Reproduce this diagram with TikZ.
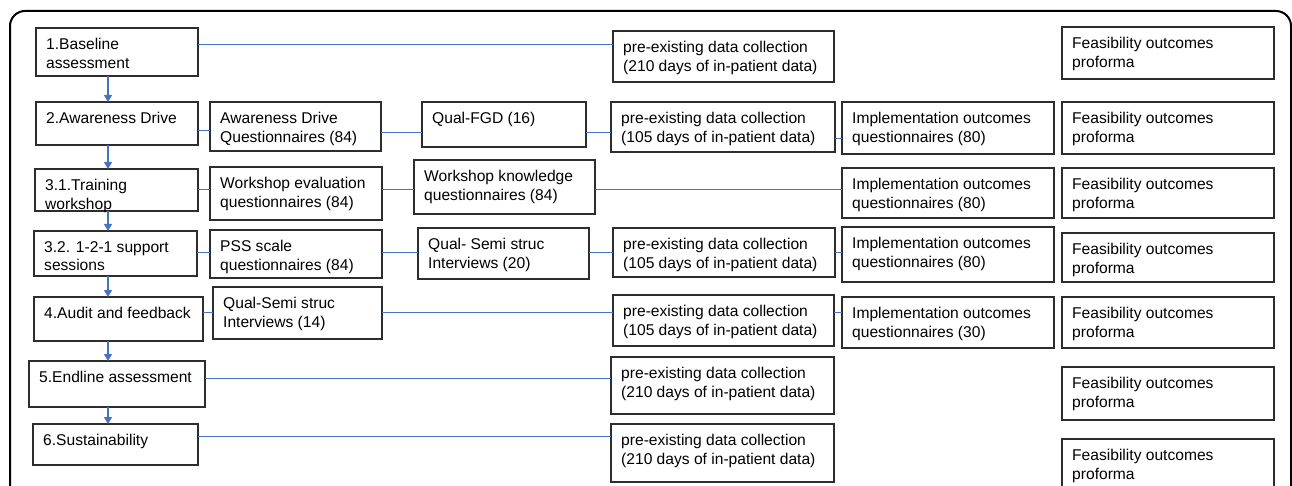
\documentclass[tikz,border=0pt]{standalone}
\usepackage{fontspec}
\setmainfont{Liberation Sans}
\usetikzlibrary{arrows.meta}
\definecolor{linkblue}{RGB}{68,114,196}
\definecolor{boxline}{RGB}{45,45,45}

% #1 name, #2 left, #3 top, #4 right, #5 bottom, #6 text
\newcommand\stagebox[6]{%
  \node[boxst, minimum width={(#4-#2)*1pt}, minimum height={(#5-#3)*1pt}] (#1) at (#2,#3) {};
  \node[txtst] (#1-t) at ([xshift=10pt,yshift=-10pt]#1.north west) {#6};
}

\begin{document}
\begin{tikzpicture}[x=1pt,y=-1pt,
  boxst/.style={draw=boxline, line width=1.2pt, anchor=north west, inner sep=0pt, outer sep=0pt},
  txtst/.style={anchor=north west, align=left, inner sep=0pt, font=\fontsize{15.6}{18.5}\selectfont},
  link/.style={draw=linkblue, line width=1.3pt},
  flow/.style={draw=linkblue, line width=1.3pt, -{Triangle[width=8pt,length=7pt]}}]
\clip (0,0) rectangle (1292,486);

% outer frame
\draw[line width=2pt, rounded corners=15pt] (10,11) rectangle (1291,540);

% stage column
\stagebox{b1}{36}{28}{198}{76}{1.Baseline\\assessment}
\stagebox{b2}{36}{102}{198}{145}{2.Awareness Drive}
\stagebox{b31}{35}{169}{198}{211}{3.1.Training\\workshop}
\stagebox{b32}{34}{231}{197}{276}{3.2. 1-2-1 support\\sessions}
\stagebox{b4}{34}{297}{203}{341}{4.Audit and feedback}
\stagebox{b5}{29}{361}{205}{407}{5.Endline assessment}
\stagebox{b6}{33}{424}{198}{465}{6.Sustainability}

% first data column
\stagebox{c2}{210}{102}{381}{151}{Awareness Drive\\Questionnaires (84)}
\stagebox{c3}{210}{167}{382}{220}{Workshop evaluation\\questionnaires (84)}
\stagebox{c32}{210}{230}{382}{278}{PSS scale\\questionnaires (84)}
\stagebox{c4}{213}{287}{382}{339}{Qual-Semi struc\\Interviews (14)}

% second data column
\stagebox{d2}{422}{102}{586}{147}{Qual-FGD (16)}
\stagebox{d3}{414}{160}{595}{214}{Workshop knowledge\\questionnaires (84)}
\stagebox{d32}{418}{228}{589}{279}{Qual- Semi struc\\Interviews (20)}

% pre-existing data
\stagebox{p1}{613}{31}{834}{82}{pre-existing data collection\\(210 days of in-patient data)}
\stagebox{p2}{611}{102}{835}{152}{pre-existing data collection\\(105 days of in-patient data)}
\stagebox{p32}{613}{228}{835}{277}{pre-existing data collection\\(105 days of in-patient data)}
\stagebox{p4}{613}{295}{834}{346}{pre-existing data collection\\(105 days of in-patient data)}
\stagebox{p5}{611}{357}{834}{414}{pre-existing data collection\\(210 days of in-patient data)}
\stagebox{p6}{611}{424}{834}{482}{pre-existing data collection\\(210 days of in-patient data)}

% implementation outcomes
\stagebox{i2}{842}{102}{1054}{154}{Implementation outcomes\\questionnaires (80)}
\stagebox{i3}{842}{168}{1054}{218}{Implementation outcomes\\questionnaires (80)}
\stagebox{i32}{842}{227}{1054}{282}{Implementation outcomes\\questionnaires (80)}
\stagebox{i4}{842}{297}{1054}{348}{Implementation outcomes\\questionnaires (30)}

% feasibility outcomes
\stagebox{f1}{1062}{27}{1274}{79}{Feasibility outcomes\\proforma}
\stagebox{f2}{1062}{102}{1274}{154}{Feasibility outcomes\\proforma}
\stagebox{f3}{1062}{168}{1274}{218}{Feasibility outcomes\\proforma}
\stagebox{f32}{1062}{233}{1274}{282}{Feasibility outcomes\\proforma}
\stagebox{f4}{1062}{297}{1274}{348}{Feasibility outcomes\\proforma}
\stagebox{f5}{1062}{367}{1274}{420}{Feasibility outcomes\\proforma}
\stagebox{f6}{1062}{439}{1274}{500}{Feasibility outcomes\\proforma}

% row heights of the connectors and the x of the flow arrows
\coordinate (r1) at (0,44.5);
\coordinate (r2a) at (0,130.5);
\coordinate (r2b) at (0,132.5);
\coordinate (r2c) at (0,138.5);
\coordinate (r3) at (0,189.5);
\coordinate (r32) at (0,252.5);
\coordinate (r4) at (0,312.5);
\coordinate (r5) at (0,378.5);
\coordinate (r6) at (0,436.5);
\coordinate (ax) at (108,0);

% horizontal connectors
\draw[link] (b1.east |- r1) -- (p1.west |- r1);
\draw[link] (b2.east |- r2a) -- (c2.west |- r2a);
\draw[link] (c2.east |- r2b) -- (d2.west |- r2b);
\draw[link] (d2.east |- r2b) -- (p2.west |- r2b);
\draw[link] (p2.east |- r2c) -- (i2.west |- r2c);
\draw[link] (b31.east |- r3) -- (c3.west |- r3);
\draw[link] (c3.east |- r3) -- (d3.west |- r3);
\draw[link] (d3.east |- r3) -- (i3.west |- r3);
\draw[link] (b32.east |- r32) -- (c32.west |- r32);
\draw[link] (c32.east |- r32) -- (d32.west |- r32);
\draw[link] (d32.east |- r32) -- (p32.west |- r32);
\draw[link] (p32.east |- r32) -- (i32.west |- r32);
\draw[link] (b4.east |- r4) -- (c4.west |- r4);
\draw[link] (c4.east |- r4) -- (p4.west |- r4);
\draw[link] (p4.east |- r4) -- (i4.west |- r4);
\draw[link] (b5.east |- r5) -- (p5.west |- r5);
\draw[link] (b6.east |- r6) -- (p6.west |- r6);

% flow between stages
\draw[flow] (b1.south -| ax) -- (b2.north -| ax);
\draw[flow] (b2.south -| ax) -- (b31.north -| ax);
\draw[flow] (b31.south -| ax) -- (b32.north -| ax);
\draw[flow] (b32.south -| ax) -- (b4.north -| ax);
\draw[flow] (b4.south -| ax) -- (b5.north -| ax);
\draw[flow] (b5.south -| ax) -- (b6.north -| ax);
\end{tikzpicture}
\end{document}
